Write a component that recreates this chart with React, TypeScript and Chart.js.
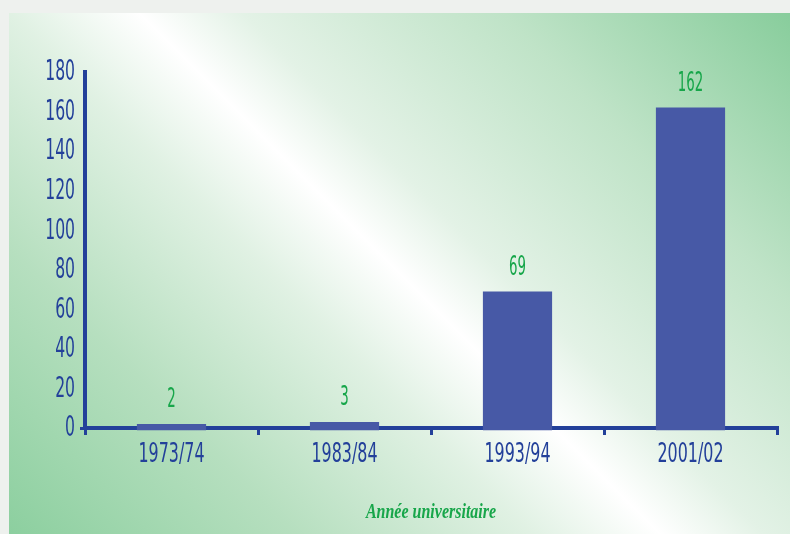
import React, { useEffect, useRef } from "react";
import { Chart, registerables } from "chart.js";

Chart.register(...registerables);

const categories = ["1973/74", "1983/84", "1993/94", "2001/02"];
const values = [2, 3, 69, 162];
const yTicks = [0, 20, 40, 60, 80, 100, 120, 140, 160, 180];
const axisTitle = "Année universitaire";

const BLUE = "#23409a";
const BAR = "#4759a6";
const GREEN = "#17a64a";
const COND = "'DejaVu Sans Condensed', 'DejaVu Sans', sans-serif";
const SERIF = "'Liberation Serif', 'DejaVu Serif', serif";

function drawText(
  ctx: CanvasRenderingContext2D,
  text: string,
  x: number,
  y: number,
  align: CanvasTextAlign,
  baseline: CanvasTextBaseline,
  sx: number
) {
  ctx.save();
  ctx.translate(x, y);
  ctx.scale(sx, 1);
  ctx.textAlign = align;
  ctx.textBaseline = baseline;
  ctx.fillText(text, 0, 0);
  ctx.restore();
}

const textPlugin = {
  id: "textPlugin",
  afterDraw(chart: any) {
    const { ctx, chartArea } = chart;
    const xs = chart.scales.x;
    const ys = chart.scales.y;
    const meta = chart.getDatasetMeta(0);
    ctx.save();
    // y tick labels
    ctx.fillStyle = BLUE;
    ctx.font = `28px ${COND}`;
    yTicks.forEach((v) => {
      drawText(ctx, String(v), chartArea.left - 10, ys.getPixelForValue(v) + 1, "right", "middle", 0.62);
    });
    // x tick labels
    ctx.font = `26px ${COND}`;
    categories.forEach((c, i) => {
      drawText(ctx, c, xs.getPixelForValue(i), 462, "center", "alphabetic", 0.68);
    });
    // value labels
    ctx.fillStyle = GREEN;
    ctx.font = `26px ${COND}`;
    meta.data.forEach((el: any, i: number) => {
      drawText(ctx, String(values[i]), el.x, ys.getPixelForValue(values[i]) - 17, "center", "alphabetic", 0.57);
    });
    // axis title
    ctx.font = `italic bold 20px ${SERIF}`;
    drawText(ctx, axisTitle, (chartArea.left + chartArea.right) / 2, 518, "center", "alphabetic", 0.8);
    ctx.restore();
  },
};

export default function App() {
  const ref = useRef<HTMLCanvasElement | null>(null);
  useEffect(() => {
    if (!ref.current) return;
    const chart = new Chart(ref.current, {
      type: "bar",
      data: {
        labels: categories,
        datasets: [
          {
            data: values,
            backgroundColor: BAR,
            barPercentage: 0.4,
            categoryPercentage: 1,
            base: -1.2,
            clip: false,
          } as any,
        ],
      },
      options: {
        animation: false,
        responsive: false,
        maintainAspectRatio: false,
        layout: { padding: { left: 0, right: 13, top: 72, bottom: 0 } },
        plugins: { legend: { display: false }, tooltip: { enabled: false } },
        scales: {
          x: {
            grid: {
              display: true,
              drawOnChartArea: false,
              offset: true,
              tickLength: 7,
              color: BLUE,
              lineWidth: 3,
            },
            border: { display: true, color: BLUE, width: 4 },
            ticks: { color: "rgba(0,0,0,0)", font: { size: 20 } },
            afterFit(scale: any) {
              scale.height = 106;
            },
          },
          y: {
            min: 0,
            max: 180,
            afterBuildTicks(scale: any) {
              scale.ticks = yTicks.map((v) => ({ value: v }));
            },
            grid: {
              display: true,
              drawOnChartArea: false,
              tickLength: 5,
              lineWidth: 3,
              color: (c: any) => (c.tick && c.tick.value === 0 ? BLUE : "rgba(0,0,0,0)"),
            },
            border: { display: true, color: BLUE, width: 4 },
            ticks: { color: "rgba(0,0,0,0)", font: { size: 20 } },
            afterFit(scale: any) {
              scale.width = 85;
            },
          },
        },
      },
      plugins: [textPlugin],
    });
    return () => chart.destroy();
  }, []);

  return (
    <div
      style={{
        position: "absolute",
        left: 0,
        top: 0,
        width: 790,
        height: 534,
        background: "#eef1ee",
        overflow: "hidden",
      }}
    >
      <div
        style={{
          position: "absolute",
          left: 9,
          top: 13,
          width: 781,
          height: 521,
          background:
            "linear-gradient(45deg, #8ccf9f 0%, #b6dfbf 22%, #e0f1e3 40%, #ffffff 50%, #e3f2e6 58%, #bfe3c7 78%, #88cd9c 100%)",
        }}
      />
      <canvas
        ref={ref}
        width={790}
        height={534}
        style={{ position: "absolute", left: 0, top: 0, width: 790, height: 534 }}
      />
    </div>
  );
}
